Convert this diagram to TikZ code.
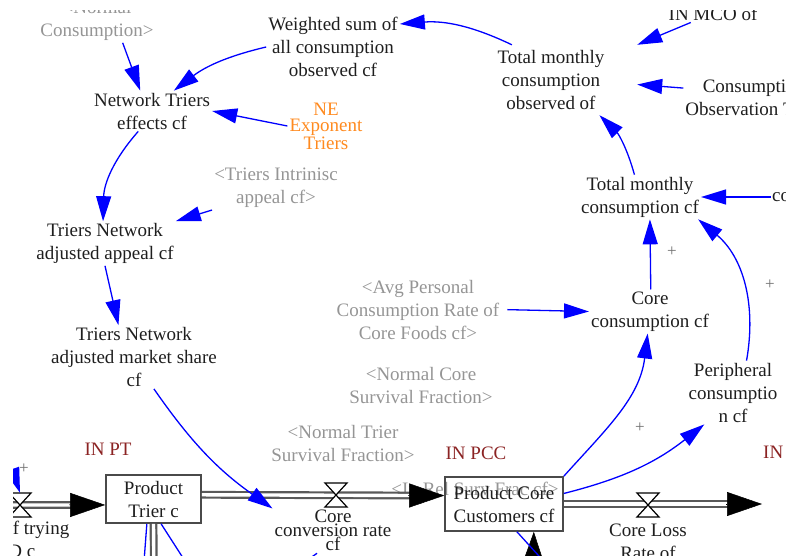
\documentclass[tikz,border=0pt]{standalone}
\usepackage{fontspec}
\setmainfont{Liberation Serif}
\usetikzlibrary{positioning, arrows.meta, calc}
\definecolor{vartext}{HTML}{1E1E1E}
\definecolor{shadowtext}{HTML}{959595}
\definecolor{constorange}{HTML}{FF8A1F}
\definecolor{inred}{HTML}{8B2323}
\definecolor{linkblue}{HTML}{0000FF}
\definecolor{pipegray}{HTML}{595959}
\definecolor{stockstroke}{HTML}{4A4A4A}
\definecolor{poltext}{HTML}{707070}

\begin{document}
\begin{tikzpicture}[
    x=1pt, y=-1pt,
    font=\fontsize{19}{23}\selectfont,
    auxvar/.style={text=vartext, align=center, inner sep=2pt},
    shadowvar/.style={text=shadowtext, align=center, inner sep=2pt},
    constvar/.style={text=constorange, align=center, inner sep=2pt, font=\fontsize{19}{16.5}\selectfont},
    inlabel/.style={text=inred, inner sep=1pt},
    stockbox/.style={rectangle, draw=stockstroke, line width=1.6pt, text=vartext, align=center, inner sep=1pt},
    valvebox/.style={minimum width=22pt, minimum height=24pt, inner sep=0pt},
    hourglass/.pic={\draw[line width=1.2pt, draw=black, fill=white] (-11,-12) -- (11,-12) -- (-11,12) -- (11,12) -- cycle;},
    link/.style={-{Triangle[length=25pt, width=15pt]}, line width=1.3pt, draw=linkblue},
    openlink/.style={line width=1.3pt, draw=linkblue},
    polarity/.style={text=poltext, inner sep=0pt, font=\fontsize{17}{17}\selectfont},
    pipe/.style={draw=pipegray, line width=2.2pt, double=white, double distance=3.4pt},
    pipetip/.style={-{Triangle[length=35pt, width=24pt]}, line width=0.5pt, draw=black, fill=black}
]
    \useasboundingbox (0,0) rectangle (786,555);
    \clip (13,10) rectangle (786,555);

    % Auxiliaries and shadow variables
    \node[shadowvar] (normcons) at (97,20.5) {<Normal\\Consumption>};
    \node[auxvar] (wsum) at (333,47) {Weighted sum of\\all consumption\\observed cf};
    \node[auxvar] (ntrier) at (152,111) {Network Triers\\effects cf};
    \node[constvar] (neexp) at (326,126) {NE\\Exponent\\Triers};
    \node[shadowvar] (triint) at (276,188) {<Triers Intrinisc\\appeal cf>};
    \node[auxvar] (tnadj) at (105,243.5) {Triers Network\\adjusted appeal cf};
    \node[auxvar] (tnms) at (134,357) {Triers Network\\adjusted market share\\cf};
    \node[auxvar, minimum width=172pt, minimum height=70pt] (tmco) at (551,80) {Total monthly\\consumption\\observed of};
    \node[auxvar] (inmco) at (713,13.5) {IN MCO of};
    \node[auxvar] (consobs) at (754,98) {Consumption\\Observation Time};
    \node[auxvar] (tmc) at (640,197) {Total monthly\\consumption cf};
    \node[auxvar, anchor=west, inner sep=1pt] (co) at (771,197) {co};
    \node[shadowvar] (avgpcr) at (418,309.5) {<Avg Personal\\Consumption Rate of\\Core Foods cf>};
    \node[auxvar] (corecons) at (650,311.5) {Core\\consumption cf};
    \node[shadowvar] (normcore) at (421,385) {<Normal Core\\Survival Fraction>};
    \node[auxvar] (periph) at (733,392.5) {Peripheral\\consumptio\\n cf};
    \node[shadowvar] (normtrier) at (343,443.5) {<Normal Trier\\Survival Fraction>};
    \node[shadowvar] (relsurv) at (475,489) {<In Rel Surv Frac cf>};

    % IN labels
    \node[inlabel] (inpt) at (108,449) {IN PT};
    \node[inlabel] (inpcc) at (476,453) {IN PCC};
    \node[inlabel, anchor=west] (inright) at (762,452) {IN};

    % Stocks
    \node[stockbox, minimum width=95pt, minimum height=48pt] (ptrier) at (153.5,499) {Product\\Trier c};
    \node[stockbox, minimum width=118pt, minimum height=54pt] (pcc) at (504,504) {Product Core\\Customers cf};

    % Valves and rates
    \node[valvebox] (v1) at (20,505) {};
    \node[valvebox] (v2) at (336,495) {};
    \node[valvebox] (v3) at (648,505) {};
    \node[auxvar, font=\fontsize{19}{11.5}\selectfont] (ccr) at (333,530.5) {Core\\conversion rate\\cf};
    \node[auxvar] (clr) at (648,541.5) {Core Loss\\Rate of};
    \node[auxvar] (rtry) at (16.5,539) {Rate of trying\\PD c};

    % Polarities
    \node[polarity] (pol1) at (672,252) {+};
    \node[polarity] (pol2) at (770,285) {+};
    \node[polarity] (pol3) at (640,428) {+};
    \node[polarity] (pol4) at (24,469) {+};

    % Ends outside the view
    \coordinate (trysrc) at (-20,505);
    \coordinate (losssink) at (762,504);
    \coordinate (ptdrain) at (154,580);
    \coordinate (pccsrc) at (533,585);
    \coordinate (trylink) at (2,440);
    \coordinate (ptout1) at (143,575);
    \coordinate (ptout2) at (194,575);
    \coordinate (ccrin) at (296,568);
    \coordinate (pccout) at (548,566);

    % Flows
    \draw[pipe, shorten >=33pt] (trysrc) -- (ptrier.187);
    \draw[pipetip] ($(ptrier.187)!36pt!(trysrc)$) -- (ptrier.187);
    \draw[pipe, shorten >=33pt] (ptrier.5) -- (pcc.172);
    \draw[pipetip] ($(pcc.172)!36pt!(ptrier.5)$) -- (pcc.172);
    \draw[pipe, shorten >=33pt] (pcc.east) -- (losssink);
    \draw[pipetip] ($(losssink)!36pt!(pcc.east)$) -- (losssink);
    \draw[pipe] (ptrier.south) -- (ptdrain);
    \draw[pipe, shorten >=33pt] (pccsrc) -- (pcc.-43);
    \draw[pipetip] ($(pcc.-43)!36pt!(pccsrc)$) -- (pcc.-43);
    \pic at (v1) {hourglass};
    \pic at (v2) {hourglass};
    \pic at (v3) {hourglass};

    % Links
    \draw[link] (normcons.-41) -- (ntrier.120);
    \draw[link] (wsum.west) to[bend right=12] (ntrier.43);
    \draw[link] (neexp.west) -- (ntrier.east);
    \draw[link] (ntrier.236) to[bend right=20] (tnadj.95);
    \draw[link] (triint.south west) -- (tnadj.north east);
    \draw[link] (tnadj.south) -- (tnms.116);
    \draw[link] (tnms.-58) to[bend right=10] (ccr.160);
    \draw[link] (tmco.138) to[bend right=15] (wsum.19);
    \draw[link] (inmco.202) -- (tmco.north east);
    \draw[link] (consobs.172) -- (tmco.-3);
    \draw[link] (tmc.104) to[bend right=15] (tmco.-36);
    \draw[link] (co.west) -- (tmc.east);
    \draw[link] (corecons.88) -- (tmc.-66);
    \draw[link] (periph.67) to[out=80, in=-40] (tmc.-21);
    \draw[link, shorten <=6pt] (avgpcr.east) -- (corecons.west);
    \draw[link] (pcc.north east) to[out=48, in=-97] (corecons.-96);
    \draw[link] (pcc.10) to[bend right=12] (periph.228);
    \draw[link] (trylink) -- (v1.north);
    \draw[openlink] (ptrier.-105) -- (ptout1);
    \draw[openlink] (ptrier.-73) -- (ptout2);
    \draw[openlink] (ccrin) -- (ccr.-125);
    \draw[openlink] (pcc.-65) -- (pccout);

\end{tikzpicture}
\end{document}
